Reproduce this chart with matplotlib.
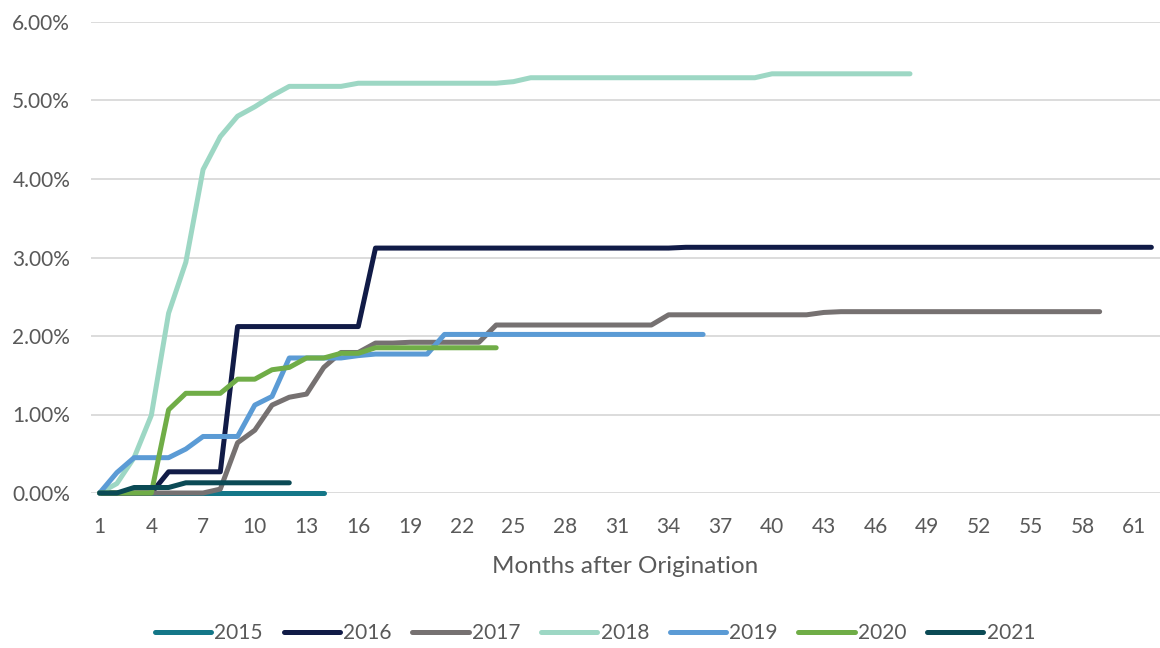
import numpy as np
import matplotlib.pyplot as plt
from matplotlib.ticker import FuncFormatter

plt.rcParams['font.family'] = ['Lato', 'DejaVu Sans']

# cumulative default rate (%) by months after origination, per vintage
v2015 = [0.0] * 14
v2016 = [0, 0, 0, 0, 0.27, 0.27, 0.27, 0.27, 2.12, 2.12, 2.12, 2.12, 2.12, 2.12, 2.12, 2.12,
         3.12, 3.12, 3.12, 3.12, 3.12, 3.12, 3.12, 3.12, 3.12, 3.12, 3.12, 3.12, 3.12, 3.12,
         3.12, 3.12, 3.12, 3.12, 3.13, 3.13, 3.13, 3.13, 3.13, 3.13, 3.13, 3.13, 3.13, 3.13,
         3.13, 3.13, 3.13, 3.13, 3.13, 3.13, 3.13, 3.13, 3.13, 3.13, 3.13, 3.13, 3.13, 3.13,
         3.13, 3.13, 3.13, 3.13]
v2017 = [0, 0, 0, 0, 0, 0, 0, 0.05, 0.64, 0.80, 1.12, 1.22, 1.26, 1.60, 1.79, 1.79,
         1.91, 1.91, 1.92, 1.92, 1.92, 1.92, 1.92, 2.14, 2.14, 2.14, 2.14, 2.14, 2.14, 2.14,
         2.14, 2.14, 2.14, 2.27, 2.27, 2.27, 2.27, 2.27, 2.27, 2.27, 2.27, 2.27, 2.30, 2.31,
         2.31, 2.31, 2.31, 2.31, 2.31, 2.31, 2.31, 2.31, 2.31, 2.31, 2.31, 2.31, 2.31, 2.31,
         2.31]
v2018 = [0, 0.12, 0.45, 0.99, 2.29, 2.94, 4.12, 4.54, 4.80, 4.92, 5.06, 5.18, 5.18, 5.18,
         5.18, 5.22, 5.22, 5.22, 5.22, 5.22, 5.22, 5.22, 5.22, 5.22, 5.24, 5.29, 5.29, 5.29,
         5.29, 5.29, 5.29, 5.29, 5.29, 5.29, 5.29, 5.29, 5.29, 5.29, 5.29, 5.34, 5.34, 5.34,
         5.34, 5.34, 5.34, 5.34, 5.34, 5.34]
v2019 = [0, 0.26, 0.45, 0.45, 0.45, 0.56, 0.72, 0.72, 0.72, 1.12, 1.23, 1.72, 1.72, 1.72,
         1.72, 1.75, 1.77, 1.77, 1.77, 1.77, 2.02, 2.02, 2.02, 2.02, 2.02, 2.02, 2.02, 2.02,
         2.02, 2.02, 2.02, 2.02, 2.02, 2.02, 2.02, 2.02]
v2020 = [0, 0, 0, 0, 1.06, 1.27, 1.27, 1.27, 1.45, 1.45, 1.57, 1.60, 1.72, 1.72, 1.78,
         1.78, 1.85, 1.85, 1.85, 1.85, 1.85, 1.85, 1.85, 1.85]
v2021 = [0, 0, 0.07, 0.07, 0.07, 0.13, 0.13, 0.13, 0.13, 0.13, 0.13, 0.13]

series = [('2015', v2015, '#147788'), ('2016', v2016, '#111B47'), ('2017', v2017, '#767171'),
          ('2018', v2018, '#9DD7C4'), ('2019', v2019, '#5B9BD5'), ('2020', v2020, '#70AD47'),
          ('2021', v2021, '#0B4A55')]

fig = plt.figure(figsize=(11.6, 6.48), dpi=100)
ax = fig.add_axes([91 / 1160, 155 / 648, 1069 / 1160, 471 / 648])

for name, vals, col in series:
    months = np.arange(1, len(vals) + 1)
    ax.plot(months, np.array(vals) / 100, color=col, lw=3.6, label=name,
            solid_capstyle='round', solid_joinstyle='round', clip_on=False, zorder=3)

ax.set_xlim(0.5, 62.5)
ax.set_ylim(0, 0.06)
ax.set_yticks(np.arange(0, 0.061, 0.01))
ax.yaxis.set_major_formatter(FuncFormatter(lambda v, p: f'{v * 100:.2f}%'))
ax.set_xticks(np.arange(1, 62, 3))
ax.grid(axis='y', color='#D9D9D9', lw=1.3)
ax.set_axisbelow(True)
for s in ['top', 'right', 'left', 'bottom']:
    ax.spines[s].set_visible(False)
ax.tick_params(length=0, labelsize=15, colors='#595959')
ax.tick_params(axis='x', pad=17)
ax.tick_params(axis='y', pad=15)
ax.set_xlabel('Months after Origination', fontsize=17.5, color='#595959', labelpad=14)

fig.legend(loc='center', bbox_to_anchor=(0.513, 0.023), ncol=7, frameon=False,
           fontsize=15, handlelength=2.7, columnspacing=1.0, handletextpad=0.15,
           labelcolor='#595959')

fig.savefig('out.png', dpi=100)
